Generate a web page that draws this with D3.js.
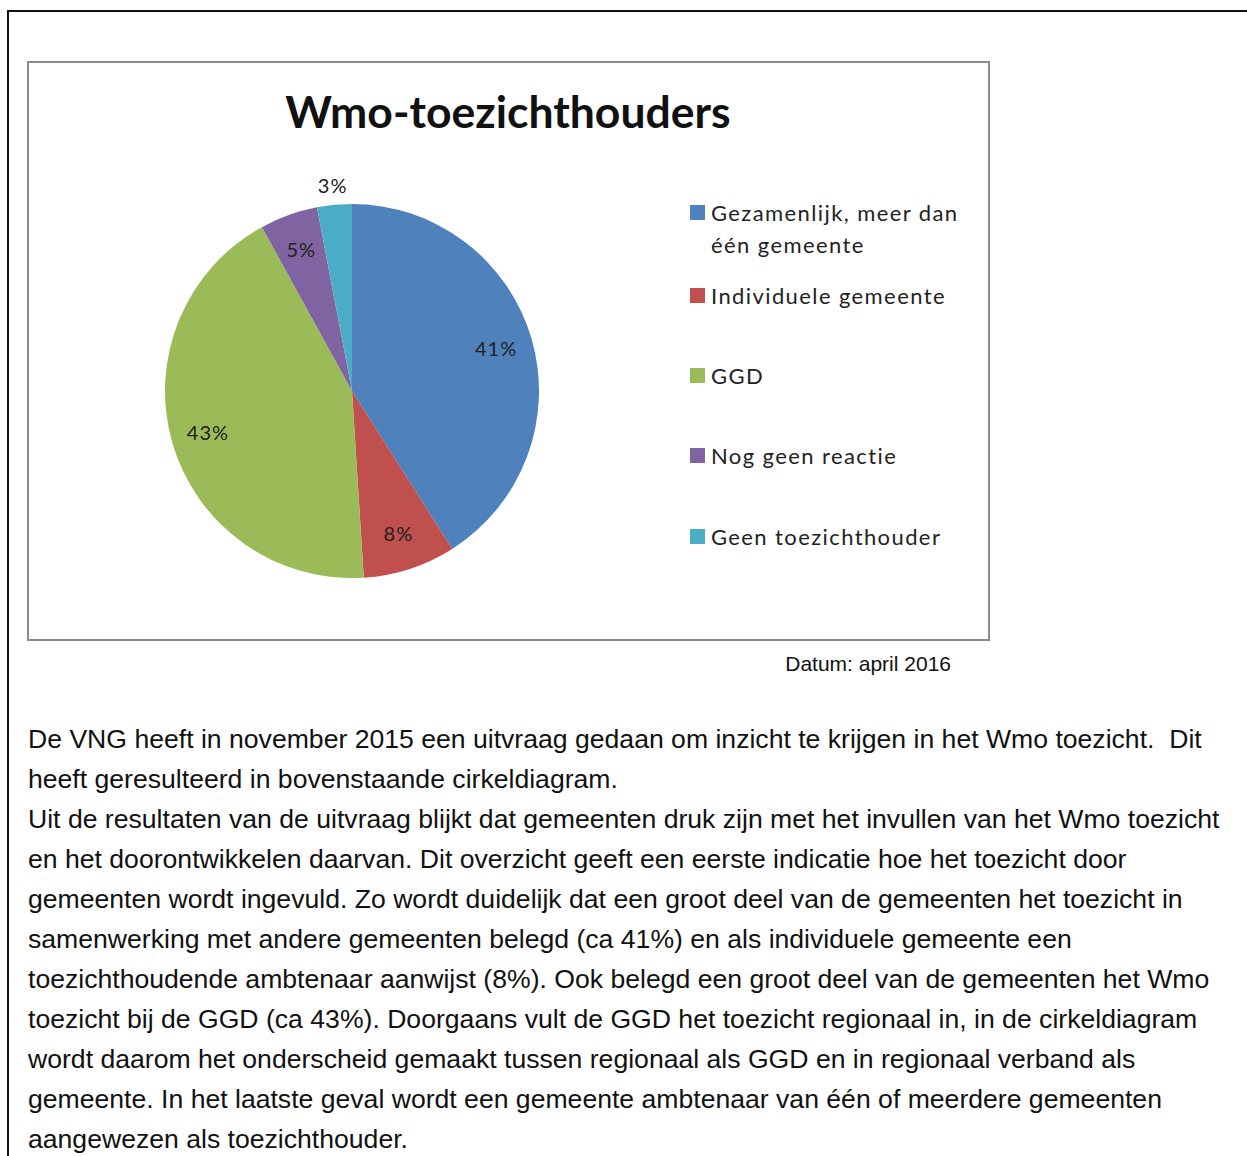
<!DOCTYPE html>
<html lang="nl">
<head>
<meta charset="utf-8">
<script src="https://d3js.org/d3.v7.min.js"></script>
<style>
  body { margin: 0; background: #fff; }
</style>
</head>
<body>
<div id="my_dataviz"></div>
<script>

// data
var categories = ["Gezamenlijk, meer dan één gemeente", "Individuele gemeente", "GGD", "Nog geen reactie", "Geen toezichthouder"];
var values = [41, 8, 43, 5, 3];
var colors = ["#4F81BD", "#C0504D", "#9BBB59", "#8064A2", "#4BACC6"];
var legendLines = [["Gezamenlijk, meer dan", "één gemeente"], ["Individuele gemeente"], ["GGD"], ["Nog geen reactie"], ["Geen toezichthouder"]];
var title = "Wmo-toezichthouders";
var dateNote = "Datum: april 2016";
var bodyLines = [
  "De VNG heeft in november 2015 een uitvraag gedaan om inzicht te krijgen in het Wmo toezicht.  Dit",
  "heeft geresulteerd in bovenstaande cirkeldiagram.",
  "Uit de resultaten van de uitvraag blijkt dat gemeenten druk zijn met het invullen van het Wmo toezicht",
  "en het doorontwikkelen daarvan. Dit overzicht geeft een eerste indicatie hoe het toezicht door",
  "gemeenten wordt ingevuld. Zo wordt duidelijk dat een groot deel van de gemeenten het toezicht in",
  "samenwerking met andere gemeenten belegd (ca 41%) en als individuele gemeente een",
  "toezichthoudende ambtenaar aanwijst (8%). Ook belegd een groot deel van de gemeenten het Wmo",
  "toezicht bij de GGD (ca 43%). Doorgaans vult de GGD het toezicht regionaal in, in de cirkeldiagram",
  "wordt daarom het onderscheid gemaakt tussen regionaal als GGD en in regionaal verband als",
  "gemeente. In het laatste geval wordt een gemeente ambtenaar van één of meerdere gemeenten",
  "aangewezen als toezichthouder."
];

var width = 1247, height = 1156;
var svg = d3.select("#my_dataviz")
  .append("svg")
    .attr("width", width)
    .attr("height", height);

// outer frame of the page
svg.append("path")
  .attr("d", "M8,1156 V11 H1247")
  .attr("fill", "none")
  .attr("stroke", "#111")
  .attr("stroke-width", 2);

// chart box
svg.append("rect")
  .attr("x", 28).attr("y", 62)
  .attr("width", 961).attr("height", 578)
  .attr("fill", "#fff")
  .attr("stroke", "#8a8a8a")
  .attr("stroke-width", 2);

svg.append("text")
  .attr("x", 508).attr("y", 128)
  .attr("text-anchor", "middle")
  .style("font-family", "Lato, 'Open Sans', sans-serif")
  .style("font-weight", "bold")
  .style("font-size", "44.5px")
  .attr("fill", "#111")
  .text(title);

// pie
var cx = 352, cy = 391, r = 187;
var pie = d3.pie().sort(null).value(function(d) { return d; });
var arcs = pie(values);
var arc = d3.arc().innerRadius(0).outerRadius(r);
var labelArc = d3.arc().innerRadius(150).outerRadius(150);
var outerLabelArc = d3.arc().innerRadius(206).outerRadius(206);

var g = svg.append("g").attr("transform", "translate(" + cx + "," + cy + ")");

g.selectAll("path.slice")
  .data(arcs)
  .enter()
  .append("path")
    .attr("class", "slice")
    .attr("d", arc)
    .attr("fill", function(d, i) { return colors[i]; });

g.selectAll("text.lbl")
  .data(arcs)
  .enter()
  .append("text")
    .attr("class", "lbl")
    .attr("transform", function(d) {
      var c = d.data < 4 ? outerLabelArc.centroid(d) : labelArc.centroid(d);
      return "translate(" + c + ")";
    })
    .attr("text-anchor", "middle")
    .attr("dy", "0.35em")
    .style("font-family", "Lato, 'Open Sans', sans-serif")
    .style("font-size", "20px")
    .style("letter-spacing", "1px")
    .attr("fill", "#222")
    .text(function(d) { return d.data + "%"; });

// legend
var legendY = [213, 296, 376, 456, 537];
var legend = svg.append("g");
categories.forEach(function(c, i) {
  legend.append("rect")
    .attr("x", 690).attr("y", legendY[i] - 8)
    .attr("width", 15).attr("height", 15)
    .attr("fill", colors[i]);
  legendLines[i].forEach(function(line, j) {
    legend.append("text")
      .attr("x", 711).attr("y", legendY[i] + 8 + j * 32)
      .style("font-family", "Lato, 'Open Sans', sans-serif")
      .style("font-size", "22px")
      .style("letter-spacing", "1.4px")
      .attr("fill", "#222")
      .text(line);
  });
});

// date note
svg.append("text")
  .attr("x", 951).attr("y", 671)
  .attr("text-anchor", "end")
  .style("font-family", "'Liberation Sans', Arial, sans-serif")
  .style("font-size", "21px")
  .attr("fill", "#111")
  .text(dateNote);

// body text
svg.selectAll("text.body")
  .data(bodyLines)
  .enter()
  .append("text")
    .attr("class", "body")
    .attr("x", 28)
    .attr("y", function(d, i) { return 748 + i * 40; })
    .style("font-family", "'Liberation Sans', Arial, sans-serif")
    .style("font-size", "26.6px")
    .style("white-space", "pre")
    .attr("fill", "#111")
    .text(function(d) { return d; });

</script>
</body>
</html>
